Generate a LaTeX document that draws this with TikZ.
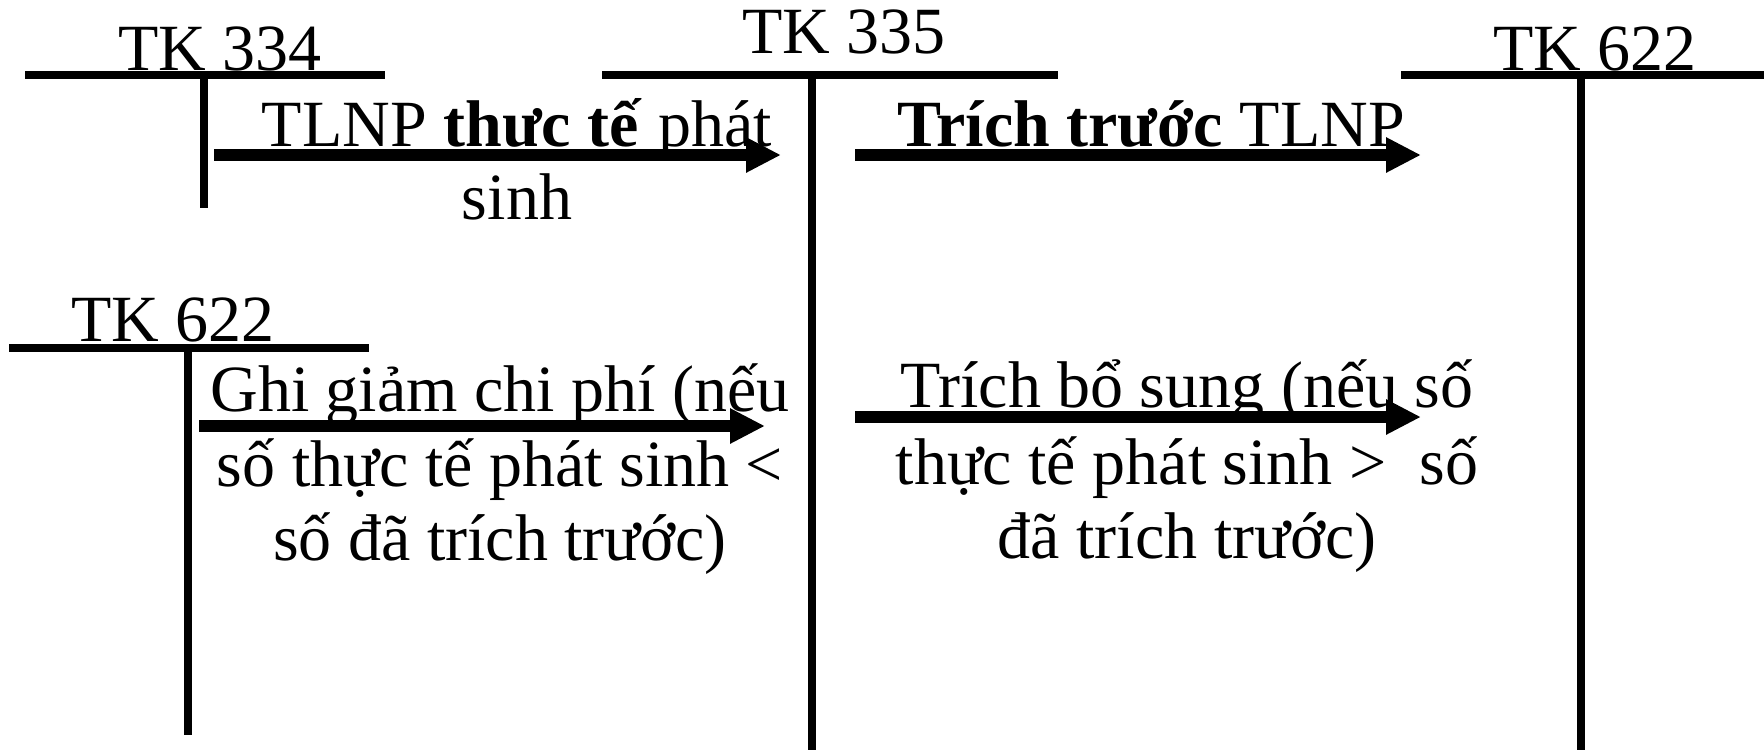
\documentclass[tikz,border=0pt]{standalone}
\usepackage{fontspec}
\setmainfont{Liberation Serif}
\usetikzlibrary{arrows.meta}
\begin{document}
\begin{tikzpicture}[x=0.5pt,y=-0.5pt,
  tline/.style={line width=3.8pt},
  flow/.style={line width=6pt,-{Triangle[length=17.5pt,width=16.5pt]}},
  txt/.style={inner sep=0pt,anchor=base,font=\fontsize{33pt}{38pt}\selectfont}]
\useasboundingbox (0,0) rectangle (1764,750);
% TK 334
\coordinate (a1l) at (25,75); \coordinate (a1r) at (385,75);
\coordinate (a1t) at (204,75); \coordinate (a1b) at (204,208);
\draw[tline] (a1l) -- (a1r); \draw[tline] (a1t) -- (a1b);
\node[txt] (l334) at (220,70) {TK 334};
% TK 335
\coordinate (a2l) at (602,75); \coordinate (a2r) at (1058,75);
\coordinate (a2t) at (812,75); \coordinate (a2b) at (812,750);
\draw[tline] (a2l) -- (a2r); \draw[tline] (a2t) -- (a2b);
\node[txt] (l335) at (844,53) {TK 335};
% TK 622 right
\coordinate (a3l) at (1401,75); \coordinate (a3r) at (1764,75);
\coordinate (a3t) at (1581,75); \coordinate (a3b) at (1581,750);
\draw[tline] (a3l) -- (a3r); \draw[tline] (a3t) -- (a3b);
\node[txt] (l622r) at (1595,70) {TK 622};
% TK 622 left
\coordinate (a4l) at (9,348); \coordinate (a4r) at (369,348);
\coordinate (a4t) at (188,348); \coordinate (a4b) at (188,735);
\draw[tline] (a4l) -- (a4r); \draw[tline] (a4t) -- (a4b);
\node[txt] (l622l) at (173,341) {TK 622};
% arrows
\coordinate (f1s) at (214,155); \coordinate (f1e) at (781,155);
\coordinate (f2s) at (855,155); \coordinate (f2e) at (1421,155);
\coordinate (f3s) at (199,426); \coordinate (f3e) at (765,426);
\coordinate (f4s) at (855,417); \coordinate (f4e) at (1421,417);
% texts
\node[txt] (t1a) at (517,146) {TLNP \textbf{thực tế} phát};
\node[txt] (t1b) at (517,219) {sinh};
\node[txt] (t2a) at (1151,146) {\textbf{Trích trước} TLNP};
\node[txt] (t3a) at (500,411) {Ghi giảm chi phí (nếu};
\node[txt] (t3b) at (500,486) {số thực tế phát sinh <};
\node[txt] (t3c) at (500,560) {số đã trích trước)};
\node[txt] (t4a) at (1187,407) {Trích bổ sung (nếu số};
\node[txt] (t4b) at (1187,484) {thực tế phát sinh >\ \ số};
\node[txt] (t4c) at (1187,558) {đã trích trước)};
\draw[flow] (f1s) -- (f1e);
\draw[flow] (f2s) -- (f2e);
\draw[flow] (f3s) -- (f3e);
\draw[flow] (f4s) -- (f4e);
\end{tikzpicture}
\end{document}
